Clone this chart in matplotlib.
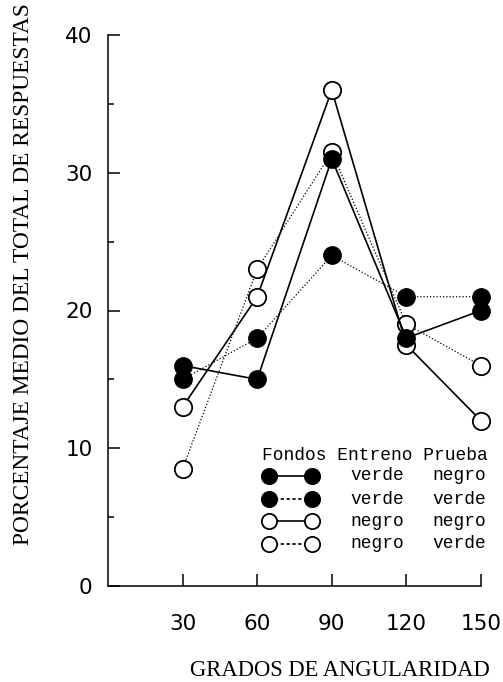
import matplotlib.pyplot as plt
from matplotlib.lines import Line2D
from matplotlib.ticker import MultipleLocator

# grados de angularidad
angulos = [30, 60, 90, 120, 150]

# porcentaje medio por condicion (fondo entreno / fondo prueba)
verde_negro = [16, 15, 31, 18, 20]
verde_verde = [15, 18, 24, 21, 21]
negro_negro = [13, 21, 36, 17.5, 12]
negro_verde = [8.5, 23, 31.5, 19, 16]

leyenda_entreno = ['verde', 'verde', 'negro', 'negro']
leyenda_prueba = ['negro', 'verde', 'negro', 'verde']

W, H = 503, 682
fig = plt.figure(figsize=(W / 100, H / 100), dpi=100)
fig.patch.set_facecolor('white')


def fx(px):
    return px / W


def fy(py):
    return 1 - py / H


ax = fig.add_axes([fx(108), fy(586), fx(481) - fx(108), fy(35) - fy(586)])

dotted = (0, (1, 1.6))
ms = 12.5

# open circles first, filled ones sit on top
ax.plot(angulos, negro_verde, color='black', lw=0.9, ls=dotted, marker='o', ms=ms,
        mfc='white', mec='black', mew=1.3, clip_on=False, zorder=2)
ax.plot(angulos, negro_negro, color='black', lw=1.2, ls='-', marker='o', ms=ms,
        mfc='white', mec='black', mew=1.3, clip_on=False, zorder=3)
ax.plot(angulos, verde_verde, color='black', lw=0.9, ls=dotted, marker='o', ms=ms,
        mfc='black', mec='black', clip_on=False, zorder=4)
ax.plot(angulos, verde_negro, color='black', lw=1.2, ls='-', marker='o', ms=ms,
        mfc='black', mec='black', clip_on=False, zorder=5)

ax.set_xlim(0, 150)
ax.set_ylim(0, 40)
ax.set_xticks(angulos)
ax.yaxis.set_major_locator(MultipleLocator(10))
ax.yaxis.set_minor_locator(MultipleLocator(5))

for s in ['top', 'right']:
    ax.spines[s].set_visible(False)
for s in ['left', 'bottom']:
    ax.spines[s].set_linewidth(1.1)

ax.tick_params(axis='both', which='major', direction='in', length=8.5, width=1.1,
               labelsize=15.5)
ax.tick_params(axis='y', which='minor', direction='in', length=4, width=1.1)
ax.tick_params(axis='y', which='major', pad=11)
ax.tick_params(axis='x', which='major', pad=20)
for lab in ax.get_xticklabels() + ax.get_yticklabels():
    lab.set_family('DejaVu Sans')

fig.text(fx(340), fy(671), 'GRADOS DE ANGULARIDAD', family='Liberation Serif',
         fontsize=16.3, ha='center', va='center')
fig.text(fx(24), fy(274), 'PORCENTAJE MEDIO DEL TOTAL DE RESPUESTAS',
         family='Liberation Serif', fontsize=16.8, ha='center', va='center',
         rotation=90)

# leyenda hecha a mano
mono = dict(family='Liberation Mono', fontsize=12.9, va='center', ha='left')
fig.text(fx(262), fy(455), 'Fondos Entreno Prueba', **mono)
filas = [476, 499, 521, 544]
estilos = [('-', 'black'), ((0, (2, 1.5)), 'black'), ('-', 'white'), ((0, (2, 1.5)), 'white')]
for y, (ls, fc), e, p in zip(filas, estilos, leyenda_entreno, leyenda_prueba):
    fig.add_artist(Line2D([fx(269), fx(312)], [fy(y), fy(y)], color='black', lw=1.2, ls=ls,
                          marker='o', ms=11, mfc=fc, mec='black', mew=1.3,
                          transform=fig.transFigure))
    fig.text(fx(350), fy(y), e, **mono)
    fig.text(fx(432), fy(y), p, **mono)

plt.savefig('out.png', dpi=100, facecolor='white')
